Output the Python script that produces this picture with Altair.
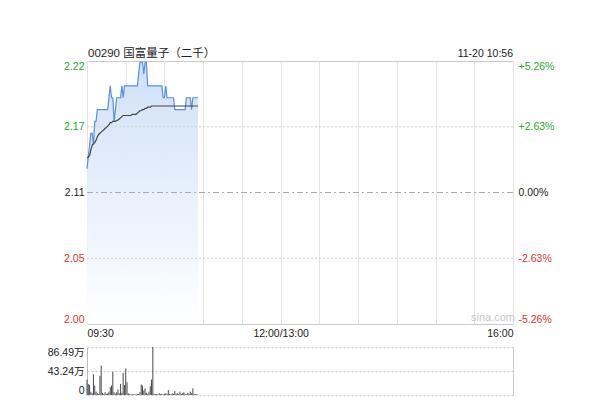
import altair as alt
import pandas as pd

# ---------------- data ----------------
minutes = list(range(87))  # minutes since 09:30
price = [2.13, 2.14, 2.15, 2.16, 2.16, 2.15, 2.17, 2.17, 2.18, 2.18,
         2.18, 2.18, 2.18, 2.18, 2.18, 2.18, 2.18, 2.19, 2.20, 2.19,
         2.19, 2.17, 2.18, 2.19, 2.19, 2.19, 2.19, 2.20, 2.19, 2.20,
         2.20, 2.20, 2.20, 2.20, 2.20, 2.20, 2.20, 2.20, 2.20, 2.20,
         2.21, 2.22, 2.22, 2.22, 2.21, 2.22, 2.22, 2.20,
         2.20, 2.20, 2.20, 2.20, 2.20, 2.20, 2.20, 2.20, 2.20, 2.20, 2.20,
         2.19, 2.19, 2.20, 2.19,
         2.19, 2.19, 2.19, 2.19, 2.19,
         2.18, 2.18, 2.18, 2.18, 2.18, 2.18, 2.18, 2.18, 2.18,
         2.19, 2.19, 2.19, 2.19, 2.18,
         2.19, 2.19, 2.19, 2.19, 2.19]
avg_price = [2.139, 2.140, 2.141, 2.146, 2.150, 2.151, 2.152, 2.154, 2.157, 2.159,
             2.160, 2.161, 2.162, 2.163, 2.164, 2.165, 2.166, 2.167, 2.169, 2.169,
             2.170, 2.170, 2.170, 2.171, 2.171, 2.172, 2.173, 2.174, 2.175, 2.175,
             2.175, 2.175, 2.175, 2.175, 2.175, 2.176, 2.176, 2.176, 2.176, 2.177,
             2.178, 2.179, 2.179, 2.180, 2.180, 2.181, 2.181, 2.182, 2.182, 2.182,
             2.183, 2.183, 2.183, 2.183, 2.183, 2.183, 2.183, 2.183, 2.183, 2.183,
             2.183, 2.183, 2.183, 2.183, 2.183, 2.183, 2.183, 2.183, 2.183, 2.183,
             2.183, 2.183, 2.183, 2.183, 2.183, 2.183, 2.183, 2.183, 2.183, 2.183,
             2.183, 2.183, 2.183, 2.183, 2.183, 2.183, 2.183]
volume = [27.7, 20.0, 18.0, 6.0, 3.0, 37.5, 17.0, 6.0, 3.0, 2.0,
          34.6, 53.0, 4.0, 2.0, 5.0, 2.0, 3.0, 6.0, 14.0, 17.0,
          41.5, 5.0, 2.0, 5.0, 10.0, 3.0, 20.0, 4.0, 40.0, 18.0,
          47.9, 23.0, 3.0, 1.5, 1.0, 2.0, 1.0, 1.5, 1.0, 2.0,
          1.5, 5.0, 19.0, 17.0, 8.0, 12.0, 4.0, 2.0, 6.0, 16.0,
          27.7, 86.49, 2.0, 1.5, 2.0, 1.0, 3.0, 1.5, 2.0, 1.0,
          2.0, 3.0, 2.0, 9.0, 2.0, 1.5, 3.0, 2.0, 7.0, 2.0,
          3.0, 1.5, 6.0, 2.0, 3.0, 5.0, 2.0, 1.5, 4.0, 2.0,
          6.0, 3.0, 12.0, 2.0, 1.5, 1.0, 1.0]  # 万股

prev_close = 2.11
price_ticks = [1.999, 2.0545, 2.11, 2.1655, 2.221]
pct_ticks = [-5.26, -2.63, 0.0, 2.63, 5.26]
vol_ticks = [0, 43.24, 86.49]
time_ticks = [0, 30, 60, 90, 120, 150, 180, 210, 240, 270, 300, 330]
time_labels = {0: "09:30", 150: "12:00/13:00", 330: "16:00"}
title_text = "00290 国富量子（二千）"
stamp_text = "11-20 10:56"
watermark = "sina.com"

df = pd.DataFrame({"m": minutes, "price": price, "avg": avg_price, "vol": volume})
grid_df = pd.DataFrame({"p": [price_ticks[1], price_ticks[3]]})
zero_df = pd.DataFrame({"p": [prev_close]})
pct_df = pd.DataFrame({"pct": pct_ticks})

# ---------------- style ----------------
W, H, VH = 426, 263, 48
FONT = "Liberation Sans, Arial, Noto Sans CJK SC"
FS = 10.5
GREEN = "#2ea52e"
RED = "#e3302f"
BLACK = "#222222"

xscale = alt.Scale(domain=[0, 330], nice=False, zero=False)
yscale = alt.Scale(domain=[price_ticks[0], price_ticks[-1]], nice=False, zero=False)

label_expr = " : ".join(
    f"datum.value == {k} ? '{v}'" for k, v in time_labels.items()
) + " : ''"

x_axis = alt.Axis(values=time_ticks, labelExpr=label_expr, title=None, ticks=False,
                  domain=False, grid=True, gridColor="#e4e4e4", labelFlush=True,
                  labelPadding=4, labelFontSize=FS, labelColor=BLACK, labelFont=FONT,
                  minExtent=16, maxExtent=16)

y_axis = alt.Axis(values=price_ticks, format=".2f", title=None, ticks=False, domain=False,
                  grid=False, labelFlush=True, labelPadding=3, labelFontSize=FS,
                  labelFont=FONT,
                  labelColor={"condition": [{"test": f"datum.value > {prev_close + 0.001}", "value": GREEN},
                                            {"test": f"datum.value < {prev_close - 0.001}", "value": RED}],
                              "value": BLACK},
                  minExtent=45, maxExtent=45)

X = alt.X("m:Q", scale=xscale, axis=x_axis)

area = alt.Chart(df).mark_area(
    color=alt.Gradient(gradient="linear",
                       stops=[alt.GradientStop(color="#cddff7", offset=0),
                              alt.GradientStop(color="#ffffff", offset=1)],
                       x1=1, x2=1, y1=0, y2=1),
    opacity=0.95,
).encode(x=X, y=alt.Y("price:Q", scale=yscale, axis=y_axis), y2=alt.datum(price_ticks[0]))

grid_rules = alt.Chart(grid_df).mark_rule(color="#d0d0d0", strokeDash=[2, 2], strokeWidth=1).encode(
    y=alt.Y("p:Q", scale=yscale, axis=y_axis))
zero_rule = alt.Chart(zero_df).mark_rule(color="#aaaaaa", strokeDash=[6, 3, 2, 3], strokeWidth=1).encode(
    y=alt.Y("p:Q", scale=yscale, axis=y_axis))

line = alt.Chart(df).mark_line(color="#5b8ee6", strokeWidth=1.2).encode(
    x=X, y=alt.Y("price:Q", scale=yscale, axis=y_axis))
avg_line = alt.Chart(df).mark_line(color="#444444", strokeWidth=1.2).encode(
    x=X, y=alt.Y("avg:Q", scale=yscale, axis=y_axis))

wm = alt.Chart(pd.DataFrame({"t": [watermark]})).mark_text(
    color="#c8c8c8", fontSize=11, font=FONT, align="center", baseline="bottom").encode(
    text="t:N", x=alt.value(406), y=alt.value(H - 1))
stamp = alt.Chart(pd.DataFrame({"t": [stamp_text]})).mark_text(
    color=BLACK, fontSize=FS, font=FONT, align="right", baseline="bottom").encode(
    text="t:N", x=alt.value(W), y=alt.value(-2))
title_mark = alt.Chart(pd.DataFrame({"t": [title_text]})).mark_text(
    color=BLACK, fontSize=11.5, font=FONT, align="left", baseline="bottom").encode(
    text="t:N", x=alt.value(1), y=alt.value(-2))

main_inner = alt.layer(area, grid_rules, zero_rule, line, avg_line, wm, stamp, title_mark)

pct_axis = alt.Axis(orient="right", values=pct_ticks, title=None, ticks=False, domain=False,
                    grid=False, labelFlush=True, labelPadding=5, labelFontSize=FS, labelFont=FONT,
                    labelExpr="(datum.value > 0.001 ? '+' : datum.value < -0.001 ? '-' : '') + format(abs(datum.value), '.2f') + '%'",
                    labelColor={"condition": [{"test": "datum.value > 0.001", "value": GREEN},
                                              {"test": "datum.value < -0.001", "value": RED}],
                                "value": BLACK})
pct_layer = alt.Chart(pct_df).mark_rule(opacity=0).encode(
    y=alt.Y("pct:Q", scale=alt.Scale(domain=[pct_ticks[0], pct_ticks[-1]], nice=False, zero=False),
            axis=pct_axis))

main = alt.layer(main_inner, pct_layer).resolve_scale(y="independent").properties(
    width=W, height=H,
    view=alt.ViewBackground(stroke="#cccccc"),
)

vol_x_axis = alt.Axis(values=[330], labels=False, ticks=False, domain=False, grid=True,
                      gridColor="#cccccc", title=None, minExtent=0, maxExtent=0)
vol_y_axis = alt.Axis(values=vol_ticks, title=None, ticks=False, domain=True, domainColor="#bbbbbb",
                      grid=True, gridColor="#cccccc", gridDash=[2, 2], labelFlush=True,
                      labelPadding=3, labelFontSize=FS, labelFont=FONT, labelColor=BLACK,
                      labelExpr="datum.value == 0 ? '0' : format(datum.value, '.2f') + '万'",
                      minExtent=45, maxExtent=45)

vol = alt.Chart(df).mark_rule(color="#4a4a4a", strokeWidth=1).encode(
    x=alt.X("m:Q", scale=xscale, axis=vol_x_axis),
    y=alt.Y("vol:Q", scale=alt.Scale(domain=[0, vol_ticks[-1]], nice=False), axis=vol_y_axis),
    y2=alt.datum(0),
).properties(width=W, height=VH, view=alt.ViewBackground(strokeOpacity=0))

chart = alt.vconcat(main, vol, spacing=5).properties(
    padding={"left": 33, "top": 39, "right": 5, "bottom": 2},
    background="white",
)

chart.save("out.html", embed_options={"renderer": "svg", "actions": False})
